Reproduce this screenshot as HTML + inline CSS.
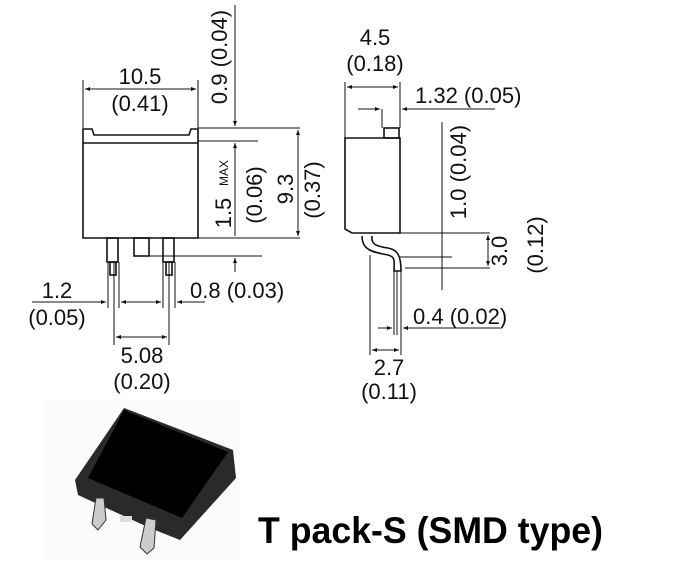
<!DOCTYPE html>
<html><head><meta charset="utf-8"><style>
html,body{margin:0;padding:0;background:#fff;}
svg{display:block}
text{font-family:"Liberation Sans",sans-serif;fill:#111;}
</style></head><body>
<svg width="695" height="565" viewBox="0 0 695 565" xmlns="http://www.w3.org/2000/svg">
<defs>
<marker id="a" viewBox="0 0 10 10" refX="10" refY="5" markerWidth="7" markerHeight="5" orient="auto-start-reverse"><path d="M0,1 L10,5 L0,9 z" fill="#111"/></marker>
</defs>
<g stroke="#111" fill="none" stroke-width="1.6">
<path d="M83,129 L83,238 L198,238 L198,129 L191,129 L189,135 L94,135 L92,129 Z"/>
<line x1="83" y1="143" x2="198" y2="143"/>
<rect x="107" y="238" width="11" height="24"/>
<rect x="110" y="262" width="6" height="13"/>
<rect x="163" y="238" width="11" height="24"/>
<rect x="166" y="262" width="6" height="13"/>
<rect x="134" y="238" width="15" height="18"/>
</g>
<g stroke="#111" fill="none" stroke-width="1">
<line x1="83" y1="80" x2="83" y2="128"/><line x1="198" y1="80" x2="198" y2="128"/>
<line x1="85" y1="89" x2="196" y2="89" marker-start="url(#a)" marker-end="url(#a)"/>
<line x1="198" y1="128" x2="300" y2="128"/>
<line x1="198" y1="141" x2="258" y2="141"/>
<line x1="198" y1="238" x2="300" y2="238"/>
<line x1="149" y1="256" x2="262" y2="256"/>
<line x1="235" y1="5" x2="235" y2="126" marker-end="url(#a)"/>
<line x1="235" y1="143" x2="235" y2="236" marker-start="url(#a)"/>
<line x1="235" y1="258" x2="235" y2="272" marker-start="url(#a)"/>
<line x1="298" y1="130" x2="298" y2="236" marker-start="url(#a)" marker-end="url(#a)"/>
<line x1="108" y1="262" x2="108" y2="308"/><line x1="114" y1="262" x2="114" y2="345"/><line x1="119" y1="262" x2="119" y2="308"/>
<line x1="163" y1="262" x2="163" y2="308"/><line x1="169" y1="262" x2="169" y2="345"/><line x1="175" y1="262" x2="175" y2="308"/>
<line x1="32" y1="302" x2="106" y2="302" marker-end="url(#a)"/>
<line x1="121" y1="302" x2="161" y2="302" marker-start="url(#a)" marker-end="url(#a)"/>
<line x1="177" y1="302" x2="205" y2="302" marker-start="url(#a)"/>
<line x1="116" y1="337" x2="167" y2="337" marker-start="url(#a)" marker-end="url(#a)"/>
</g>
<g font-size="22">
<text x="140" y="84" text-anchor="middle">10.5</text>
<text x="140" y="111" text-anchor="middle">(0.41)</text>
<text transform="translate(227,57) rotate(-90)" text-anchor="middle">0.9 (0.04)</text>
<text transform="translate(231,213) rotate(-90)" text-anchor="middle">1.5</text>
<text transform="translate(228,173) rotate(-90)" text-anchor="middle" font-size="12">MAX</text>
<text transform="translate(262,195) rotate(-90)" text-anchor="middle">(0.06)</text>
<text transform="translate(293,189) rotate(-90)" text-anchor="middle">9.3</text>
<text transform="translate(320,190) rotate(-90)" text-anchor="middle">(0.37)</text>
<text x="57" y="298" text-anchor="middle">1.2</text>
<text x="57" y="325" text-anchor="middle">(0.05)</text>
<text x="190" y="298">0.8 (0.03)</text>
<text x="142" y="363" text-anchor="middle">5.08</text>
<text x="142" y="389" text-anchor="middle">(0.20)</text>
</g>
<g stroke="#111" fill="none" stroke-width="1.6">
<path d="M345,138 L400,138 L400,233 L352,233 L345,229 Z"/>
<rect x="384" y="128" width="15" height="10"/>
<path d="M362,236 C362,250 372,252 388,255 C396,257 394,262 394,271 L401,271 C401,256 398,250 388,248 C375,246 371,244 372,236"/>
</g>
<g stroke="#111" fill="none" stroke-width="1">
<line x1="345" y1="82" x2="345" y2="138"/><line x1="400" y1="82" x2="400" y2="128"/>
<line x1="347" y1="87" x2="398" y2="87" marker-start="url(#a)" marker-end="url(#a)"/>
<line x1="382" y1="109" x2="382" y2="128"/>
<line x1="358" y1="109" x2="380" y2="109" marker-end="url(#a)"/>
<line x1="402" y1="109" x2="495" y2="109" marker-start="url(#a)"/>
<line x1="442" y1="122" x2="442" y2="290"/>
<line x1="400" y1="233" x2="490" y2="233"/>
<line x1="400" y1="257" x2="452" y2="257"/>
<line x1="405" y1="268" x2="490" y2="268"/>
<line x1="488" y1="235" x2="488" y2="266" marker-start="url(#a)" marker-end="url(#a)"/>
<line x1="370" y1="255" x2="370" y2="355"/>
<line x1="394" y1="271" x2="394" y2="335"/>
<line x1="397" y1="271" x2="397" y2="335"/>
<line x1="401" y1="271" x2="401" y2="355"/>
<line x1="378" y1="328" x2="392" y2="328" marker-end="url(#a)"/>
<line x1="403" y1="328" x2="500" y2="328" marker-start="url(#a)"/>
<line x1="372" y1="350" x2="399" y2="350" marker-start="url(#a)" marker-end="url(#a)"/>
</g>
<g font-size="22">
<text x="375" y="45" text-anchor="middle">4.5</text>
<text x="375" y="71" text-anchor="middle">(0.18)</text>
<text x="415" y="103">1.32 (0.05)</text>
<text transform="translate(466,172) rotate(-90)" text-anchor="middle">1.0 (0.04)</text>
<text transform="translate(507,251) rotate(-90)" text-anchor="middle">3.0</text>
<text transform="translate(543,245) rotate(-90)" text-anchor="middle">(0.12)</text>
<text x="413" y="324">0.4 (0.02)</text>
<text x="389" y="375" text-anchor="middle">2.7</text>
<text x="389" y="399" text-anchor="middle">(0.11)</text>
</g>
<g>
<rect x="45" y="400" width="195" height="160" fill="#fbfbfb"/>
<path d="M124,408 L233,450 L236,478 L180,540 L150,528 L78,495 L75,480 Z" fill="#2a2a2a"/>
<path d="M124,410 L228,452 L182,518 L88,478 Z" fill="#000"/>
<path d="M96,498 L104,498 L106,520 L98,530 L92,524 Z" fill="#ccc" stroke="#333"/>
<path d="M146,518 L156,520 L154,548 L147,554 L140,547 Z" fill="#ccc" stroke="#333"/>
<rect x="120" y="516" width="12" height="6" fill="#ddd"/>
</g>
<text x="258" y="543" font-size="37" font-weight="bold" textLength="345" lengthAdjust="spacingAndGlyphs" style="fill:#000">T pack-S (SMD type)</text>
</svg>
</body></html>
